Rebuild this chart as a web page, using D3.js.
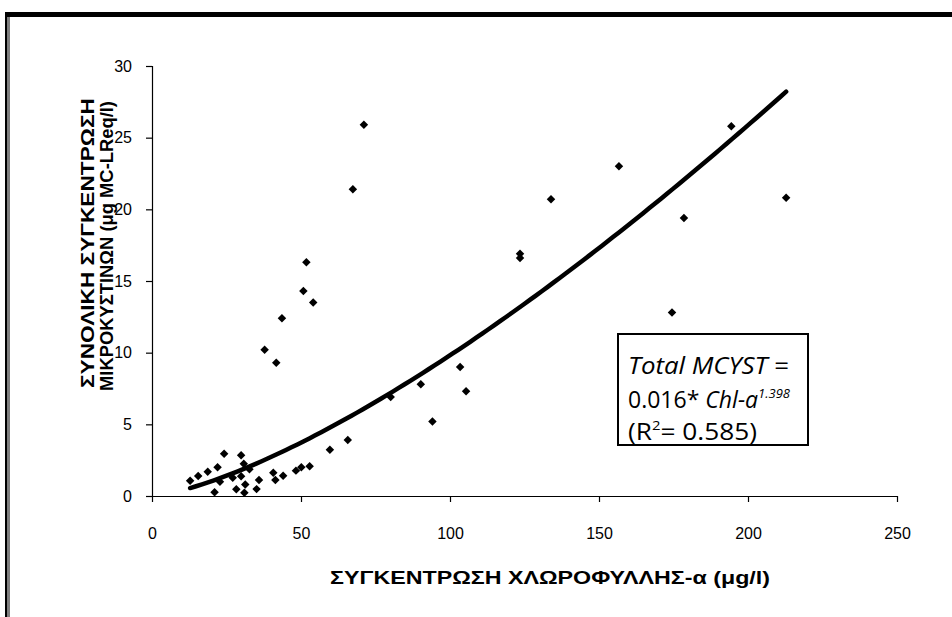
<!DOCTYPE html>
<html><head><meta charset="utf-8">
<script src="https://cdn.jsdelivr.net/npm/d3@7"></script>
<style>
html,body{margin:0;padding:0;background:#fff;}
svg{display:block;}
</style></head>
<body>
<svg id="chart" width="952" height="617"></svg>
<script>
// ---- data ----
const chlA = [12.8,15.5,18.7,22.0,24.2,22.8,21.0,27.1,29.9,30.8,32.7,29.9,28.3,31.3,31.0,35.1,35.9,40.7,41.4,44.0,48.3,50.1,52.9,59.7,65.7,
  37.8,41.7,43.6,50.8,51.8,54.1,67.4,71.1,80.1,90.2,94.1,103.4,105.4,123.5,123.5,133.9,156.7,174.5,178.5,194.4,212.8];
const mcyst = [1.07,1.4,1.7,2.0,2.95,1.0,0.26,1.28,2.85,2.25,1.86,1.38,0.47,0.8,0.23,0.48,1.12,1.62,1.12,1.42,1.77,2.0,2.07,3.23,3.9,
  10.2,9.3,12.4,14.3,16.3,13.5,21.4,25.9,6.9,7.8,5.2,9.0,7.3,16.6,16.9,20.7,23.0,12.8,19.4,25.8,20.8];
const xTicks = [0,50,100,150,200,250];
const yTicks = [0,5,10,15,20,25,30];
const fitA = 0.0157, fitB = 1.398;   // power-law fit (coefficient shown rounded as 0.016)
const xLabel = "ΣΥΓΚΕΝΤΡΩΣΗ ΧΛΩΡΟΦΥΛΛΗΣ-α (μg/l)";
const yLabel1 = "ΣΥΝΟΛΙΚΗ ΣΥΓΚΕΝΤΡΩΣΗ";
const yLabel2 = "ΜΙΚΡΟΚΥΣΤΙΝΩΝ (μg MC-LReq/l)";

const svg = d3.select("#chart");

// outer frame (cropped at right and bottom)
svg.append("rect").attr("x",5).attr("y",12).attr("width",947).attr("height",5).attr("fill","#000");
svg.append("rect").attr("x",5).attr("y",12).attr("width",2.5).attr("height",605).attr("fill","#000");
svg.append("rect").attr("x",8.5).attr("y",17).attr("width",1).attr("height",600).attr("fill","#000");

const x = d3.scaleLinear().domain([0,250]).range([152,897]);
const y = d3.scaleLinear().domain([0,30]).range([496,66]);

const font = "'Liberation Sans', Arial, sans-serif";

// axes
const gx = svg.append("g").attr("transform","translate(0,496)")
  .call(d3.axisBottom(x).tickValues(xTicks).tickSize(6).tickPadding(26).tickSizeOuter(0));
const gy = svg.append("g").attr("transform","translate(152,0)")
  .call(d3.axisLeft(y).tickValues(yTicks).tickSize(6).tickPadding(14).tickSizeOuter(0));
[gx,gy].forEach(g=>{
  g.select(".domain").attr("stroke","#000").attr("stroke-width",1.2);
  g.selectAll(".tick line").attr("stroke","#000").attr("stroke-width",1.2);
  g.selectAll(".tick text").attr("fill","#000").style("font-family",font).style("font-size","16px");
});
gy.select(".domain").attr("d", `M0.5,${y(30)}V${y(0)}`);

// trend line
const xmin = d3.min(chlA), xmax = d3.max(chlA);
const fitPts = d3.range(0,101).map(i=>{const cx = xmin + (xmax-xmin)*i/100; return [cx, fitA*Math.pow(cx,fitB)];});
svg.append("path").datum(fitPts)
  .attr("d", d3.line().x(d=>x(d[0])).y(d=>y(d[1])))
  .attr("fill","none").attr("stroke","#000").attr("stroke-width",4.5).attr("stroke-linecap","round");

// points
const sym = d3.symbol().type(d3.symbolSquare).size(36);
svg.append("g").selectAll("path").data(chlA.map((c,i)=>[c,mcyst[i]])).join("path")
  .attr("d", sym)
  .attr("transform", d=>`translate(${x(d[0])},${y(d[1])}) rotate(45)`)
  .attr("fill","#000");

// axis titles
svg.append("text").attr("x",550).attr("y",584).attr("text-anchor","middle")
  .attr("textLength",440).attr("lengthAdjust","spacingAndGlyphs")
  .style("font-family",font).style("font-weight","bold").style("font-size","19px").text(xLabel);
svg.append("text").attr("transform","translate(94,243) rotate(-90)").attr("text-anchor","middle")
  .attr("textLength",290).attr("lengthAdjust","spacingAndGlyphs")
  .style("font-family",font).style("font-weight","bold").style("font-size","18px").text(yLabel1);
svg.append("text").attr("transform","translate(113,246) rotate(-90)").attr("text-anchor","middle")
  .attr("textLength",290).attr("lengthAdjust","spacingAndGlyphs")
  .style("font-family",font).style("font-weight","bold").style("font-size","18px").text(yLabel2);

// equation box
svg.append("rect").attr("x",618).attr("y",334).attr("width",190).attr("height",111)
  .attr("fill","#fff").attr("stroke","#000").attr("stroke-width",2);
const bf = "'Open Sans', Lato, sans-serif";
const t1 = svg.append("text").attr("x",628).attr("y",374).style("font-family",bf).style("font-size","23px")
  .attr("textLength",161).attr("lengthAdjust","spacingAndGlyphs");
t1.append("tspan").style("font-style","italic").text("Total MCYST");
t1.append("tspan").text(" =");
const t2 = svg.append("text").attr("x",628).attr("y",408).style("font-family",bf).style("font-size","23px")
  .attr("textLength",162).attr("lengthAdjust","spacingAndGlyphs");
t2.append("tspan").text("0.016* ");
t2.append("tspan").style("font-style","italic").text("Chl-a");
t2.append("tspan").attr("dy",-10).style("font-size","13px").style("font-style","italic").text("1.398");
const t3 = svg.append("text").attr("x",628).attr("y",440).style("font-family",bf).style("font-size","23px")
  .attr("textLength",129).attr("lengthAdjust","spacingAndGlyphs");
t3.append("tspan").text("(R");
t3.append("tspan").attr("dy",-10).style("font-size","13px").text("2");
t3.append("tspan").attr("dy",10).text("= 0.585)");
</script>
</body></html>
